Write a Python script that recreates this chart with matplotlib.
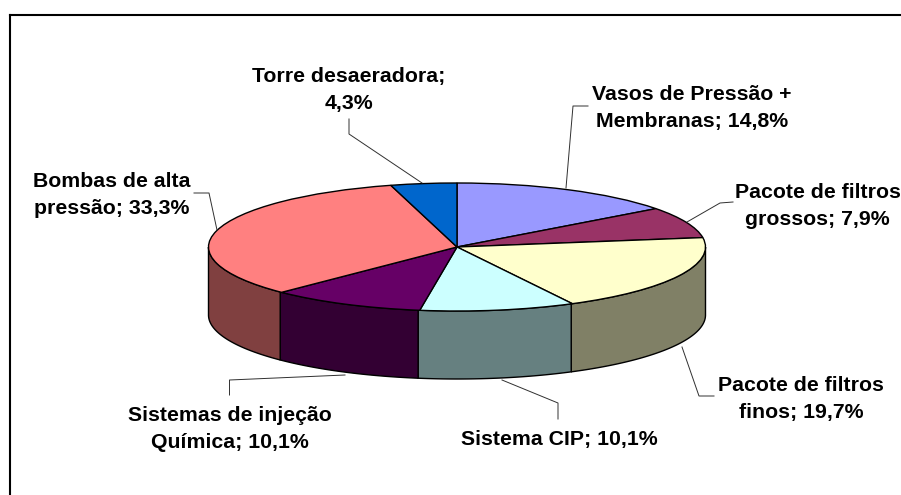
"""
3D style pie chart of cost shares, drawn with ax.pie plus side walls.
"""

import matplotlib

matplotlib.use("Agg")

import matplotlib.pyplot as plt
import numpy as np

categories = [
    "Vasos de Pressão +\nMembranas",
    "Pacote de filtros\ngrossos",
    "Pacote de filtros\nfinos",
    "Sistema CIP",
    "Sistemas de injeção\nQuímica",
    "Bombas de alta\npressão",
    "Torre desaeradora",
]
shares = [14.8, 7.9, 19.7, 10.1, 10.1, 33.3, 4.3]
top_colors = ["#9999FF", "#993366", "#FFFFCC", "#CCFFFF", "#660066", "#FF8080", "#0066CC"]
side_colors = ["#4D4D80", "#4D1A33", "#808066", "#668080", "#330033", "#804040", "#003366"]

W, H = 901, 495
CX, CY = 457, 247
RX, RY = 248.5, 64
DEPTH = 68 / RY

label_pos = [(692, 108), (817.5, 206), (801, 399), (559, 440), (230, 429), (112, 195), (349, 90)]
leaders = [
    [(588, 106), (573, 106), (566, 188)],
    [(733, 202), (720, 203), (687, 222)],
    [(714, 396), (699, 396), (682, 347)],
    [(558, 419), (558, 403), (502, 380)],
    [(229.5, 395), (229.5, 380), (345, 375)],
    [(194, 193), (209, 193), (217, 230)],
    [(349, 119), (349, 134), (422, 183)],
]

fig = plt.figure(figsize=(W / 100, H / 100), dpi=100)

# ============================================================
# Pie, one unit of data is the radius
# ============================================================

ax = fig.add_axes([0, 0, 1, 1])

ax.pie(
    shares,
    colors=top_colors,
    startangle=90,
    counterclock=False,
    radius=1,
    wedgeprops={"edgecolor": "black", "linewidth": 1.0, "zorder": 3},
)

ax.set_aspect("auto")
ax.set_xlim(-CX / RX, (W - CX) / RX)
ax.set_ylim((CY - H) / RY, CY / RY)
ax.axis("off")

# side walls, only the front half of the rim shows
edges = np.cumsum([0] + shares) / 100 * 360

for start, end, color in zip(edges[:-1], edges[1:], side_colors):
    lo = max(start, 90)
    hi = min(end, 270)

    if lo >= hi:
        continue

    angles = np.radians(np.linspace(lo, hi, 80))
    xs = np.sin(angles)
    ys = np.cos(angles)

    ax.fill(
        np.r_[xs, xs[::-1]],
        np.r_[ys, ys[::-1] - DEPTH],
        facecolor=color,
        edgecolor="black",
        linewidth=1.0,
        zorder=2,
    )

# ============================================================
# Frame, leader lines and labels in pixel coordinates
# ============================================================

overlay = fig.add_axes([0, 0, 1, 1], facecolor="none")
overlay.set_xlim(0, W)
overlay.set_ylim(H, 0)
overlay.axis("off")

overlay.plot([10, 10], [H + 5, 15], color="black", linewidth=1.5, clip_on=False)
overlay.plot([10, W + 5], [15, 15], color="black", linewidth=1.5, clip_on=False)

for points in leaders:
    xs, ys = zip(*points)
    overlay.plot(xs, ys, color="#303030", linewidth=0.7)

for name, share, (x, y) in zip(categories, shares, label_pos):
    value = f"{share:.1f}".replace(".", ",")
    sep = "\n" if name == "Torre desaeradora" else " "
    overlay.text(
        x,
        y,
        f"{name};{sep}{value}%",
        ha="center",
        va="center",
        family="Liberation Sans",
        fontweight="bold",
        fontsize=15.3,
        linespacing=1.48,
        color="black",
    )

fig.savefig("out.png", dpi=100)
